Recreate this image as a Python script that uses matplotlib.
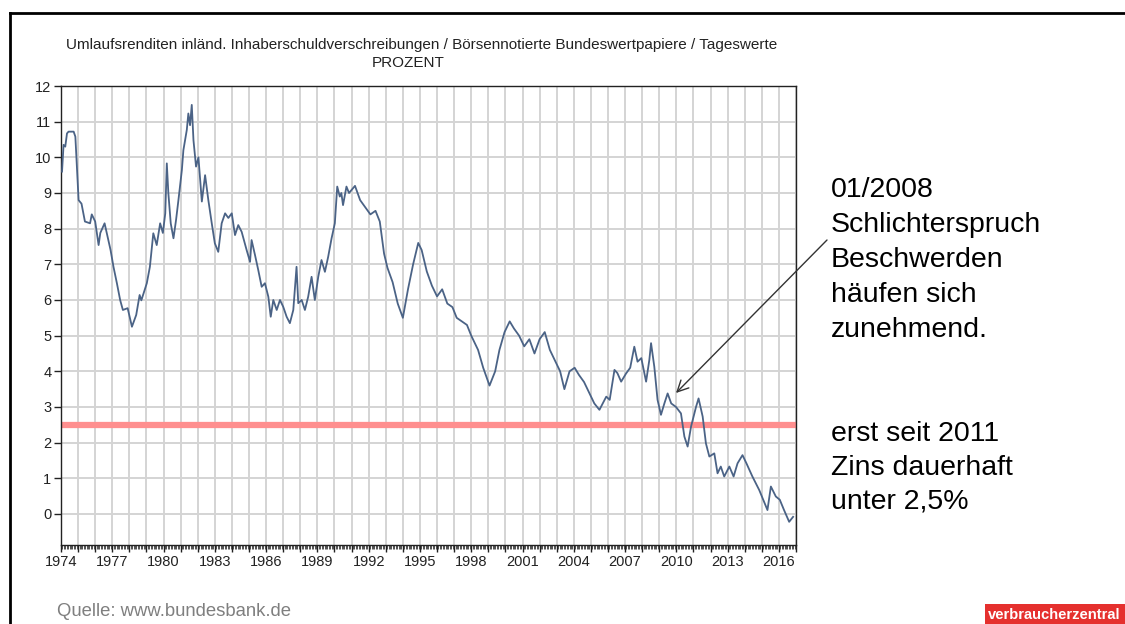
import numpy as np
import matplotlib.pyplot as plt
from matplotlib.lines import Line2D
from matplotlib.patches import Rectangle
import matplotlib.transforms as mtransforms

plt.rcParams['font.family'] = ['Liberation Sans', 'DejaVu Sans']

# Umlaufsrendite (Prozent)
years = [1974.06, 1974.15, 1974.25, 1974.35, 1974.44, 1974.74, 1974.84, 1975.03, 1975.2, 1975.4,
         1975.7, 1975.8, 1976.0, 1976.2, 1976.3, 1976.55, 1976.9, 1977.07, 1977.27, 1977.46,
         1977.62, 1977.9, 1978.15, 1978.4, 1978.6, 1978.7, 1979.02, 1979.2, 1979.4, 1979.6,
         1979.8, 1979.96, 1980.1, 1980.19, 1980.28, 1980.42, 1980.58, 1980.73, 1980.87, 1981.07,
         1981.16, 1981.36, 1981.45, 1981.55, 1981.65, 1981.75, 1981.9, 1982.04, 1982.24, 1982.43,
         1982.62, 1982.82, 1983.0, 1983.2, 1983.4, 1983.6, 1983.79, 1983.99, 1984.18, 1984.37,
         1984.57, 1984.86, 1985.06, 1985.15, 1985.35, 1985.54, 1985.74, 1985.93, 1986.13, 1986.27,
         1986.42, 1986.62, 1986.81, 1987.0, 1987.2, 1987.39, 1987.59, 1987.78, 1987.88, 1988.08,
         1988.27, 1988.46, 1988.66, 1988.85, 1989.05, 1989.24, 1989.44, 1989.63, 1989.83, 1990.02,
         1990.16, 1990.31, 1990.4, 1990.5, 1990.7, 1990.85, 1991.2, 1991.5, 1991.8, 1992.1,
         1992.4, 1992.65, 1992.9, 1993.1, 1993.4, 1993.7, 1994.0, 1994.3, 1994.6, 1994.9,
         1995.1, 1995.4, 1995.7, 1996.0, 1996.3, 1996.6, 1996.9, 1997.15, 1997.45, 1997.75,
         1998.0, 1998.4, 1998.7, 1999.07, 1999.4, 1999.65, 1999.95, 2000.25, 2000.5, 2000.8,
         2001.1, 2001.4, 2001.7, 2002.0, 2002.3, 2002.6, 2002.9, 2003.2, 2003.45, 2003.75,
         2004.05, 2004.3, 2004.6, 2004.9, 2005.2, 2005.5, 2005.9, 2006.1, 2006.38, 2006.55,
         2006.77, 2007.06, 2007.3, 2007.54, 2007.73, 2007.95, 2008.23, 2008.42, 2008.52, 2008.71,
         2008.9, 2009.1, 2009.3, 2009.49, 2009.7, 2009.98, 2010.27, 2010.47, 2010.66, 2010.86,
         2011.15, 2011.3, 2011.54, 2011.73, 2011.93, 2012.22, 2012.41, 2012.6, 2012.8, 2013.1,
         2013.35, 2013.58, 2013.87, 2014.1, 2014.45, 2014.85, 2015.33, 2015.53, 2015.82, 2016.05,
         2016.3, 2016.6, 2016.83]
rates = [9.6, 10.35, 10.3, 10.67, 10.72, 10.72, 10.58, 8.8, 8.7, 8.2,
         8.15, 8.4, 8.2, 7.54, 7.88, 8.15, 7.4, 6.93, 6.47, 6.0,
         5.72, 5.77, 5.25, 5.58, 6.14, 5.99, 6.47, 6.93, 7.87, 7.54,
         8.15, 7.88, 8.43, 9.83, 9.0, 8.15, 7.73, 8.24, 8.8, 9.64,
         10.2, 10.77, 11.23, 10.9, 11.47, 10.48, 9.74, 10.0, 8.76, 9.5,
         8.8, 8.15, 7.59, 7.35, 8.15, 8.43, 8.3, 8.43, 7.82, 8.1,
         7.91, 7.4, 7.07, 7.68, 7.26, 6.84, 6.37, 6.47, 6.09, 5.53,
         6.0, 5.72, 6.0, 5.81, 5.53, 5.35, 5.72, 6.93, 5.91, 6.0,
         5.72, 6.09, 6.65, 6.0, 6.65, 7.12, 6.79, 7.21, 7.73, 8.15,
         9.18, 8.9, 9.0, 8.66, 9.18, 9.0, 9.2, 8.8, 8.6, 8.4,
         8.5, 8.2, 7.3, 6.9, 6.5, 5.9, 5.5, 6.3, 7.0, 7.6,
         7.4, 6.8, 6.4, 6.1, 6.3, 5.9, 5.8, 5.5, 5.4, 5.3,
         5.0, 4.6, 4.1, 3.6, 4.0, 4.6, 5.1, 5.4, 5.2, 5.0,
         4.7, 4.9, 4.5, 4.9, 5.1, 4.6, 4.3, 4.0, 3.5, 4.0,
         4.1, 3.9, 3.7, 3.4, 3.1, 2.92, 3.29, 3.2, 4.04, 3.95,
         3.71, 3.94, 4.1, 4.69, 4.27, 4.37, 3.71, 4.32, 4.79, 4.13,
         3.2, 2.78, 3.1, 3.38, 3.1, 3.0, 2.82, 2.17, 1.89, 2.45,
         3.0, 3.24, 2.73, 1.98, 1.61, 1.7, 1.14, 1.33, 1.05, 1.33,
         1.05, 1.42, 1.65, 1.42, 1.05, 0.67, 0.11, 0.77, 0.49, 0.4,
         0.11, -0.22, -0.08]

label_years = list(range(1974, 2017, 3))
ytick_vals = list(range(0, 13))
threshold = 2.5

W, H = 1125, 624
fig = plt.figure(figsize=(W/100, H/100), dpi=100)

def fx(px):
    return px / W

def fy(py):
    return 1 - py / H

ax = fig.add_axes([fx(61), fy(545), fx(796) - fx(61), fy(86) - fy(545)])
ax.plot(years, rates, color='#4b6386', lw=1.3, zorder=3)
ax.axhline(threshold, color='#ff8f8f', lw=4.5, zorder=2)

ax.set_xlim(1974, 2017)
ax.set_ylim(-0.87, 12)

ax.set_yticks(ytick_vals)
ax.set_yticklabels([str(v) for v in ytick_vals])
ax.set_xticks(range(1974, 2018))
ax.set_xticklabels([str(y) if y in label_years else '' for y in range(1974, 2018)])
ax.set_xticks(np.arange(1974, 2017, 1/12), minor=True)
offset = mtransforms.ScaledTranslation(0.0856, 0, fig.dpi_scale_trans)
for lab in ax.get_xticklabels():
    lab.set_transform(lab.get_transform() + offset)

ax.grid(True, which='major', color='#d4d4d4', lw=1.4, zorder=0)
ax.tick_params(axis='both', which='major', direction='out', length=5, width=1,
               labelsize=10.5, colors='#222222', pad=2)
ax.tick_params(axis='x', which='minor', direction='out', length=3, width=0.6, colors='#333333')
for s in ax.spines.values():
    s.set_color('#222222')
    s.set_linewidth(1)

fig.text(fx(422), fy(45), 'Umlaufsrenditen inländ. Inhaberschuldverschreibungen / Börsennotierte '
         'Bundeswertpapiere / Tageswerte', ha='center', va='center', fontsize=11, color='#222222')
fig.text(fx(408), fy(63), 'PROZENT', ha='center', va='center', fontsize=11, color='#222222')

note1 = ['01/2008', 'Schlichterspruch', 'Beschwerden', 'häufen sich', 'zunehmend.']
for i, t in enumerate(note1):
    fig.text(fx(831), fy(197 + 35 * i), t, ha='left', va='baseline', fontsize=20.5, color='black')
note2 = ['erst seit 2011', 'Zins dauerhaft', 'unter 2,5%']
for i, t in enumerate(note2):
    fig.text(fx(831), fy(441 + 34 * i), t, ha='left', va='baseline', fontsize=20.5, color='black')

ax.annotate('', xy=(fx(676), fy(393)), xycoords='figure fraction',
            xytext=(fx(827), fy(240)), textcoords='figure fraction',
            arrowprops=dict(arrowstyle='->', color='#333333', lw=1, mutation_scale=20,
                            shrinkA=0, shrinkB=0))

fig.text(fx(57), fy(612), 'Quelle: www.bundesbank.de', ha='left', va='center',
         fontsize=13.3, color='#7f7f7f')

# slide frame
fig.add_artist(Line2D([fx(10), 1], [fy(13), fy(13)], color='black', lw=2))
fig.add_artist(Line2D([fx(10), fx(10)], [fy(13), 0], color='black', lw=2))

# logo strip
fig.add_artist(Rectangle((fx(985), 0), 1 - fx(985), fy(604), color='#e5302e', lw=0))
fig.text(fx(988), fy(615), 'verbraucherzentral', ha='left', va='center', fontsize=10.6,
         fontweight='bold', color='white')

fig.savefig('out.png', dpi=100)
